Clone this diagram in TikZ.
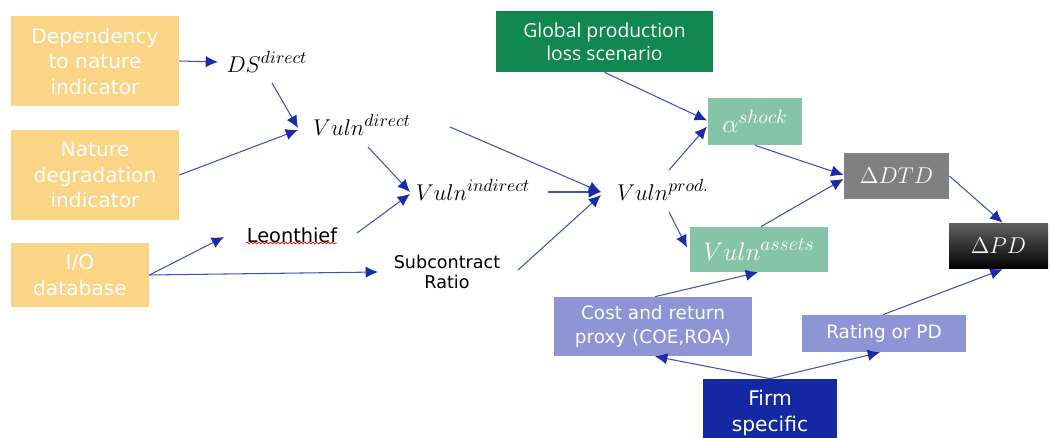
\RequirePackage{fix-cm}
\documentclass[tikz,border=0pt]{standalone}
\usepackage{fontspec}
\setmainfont{DejaVu Sans}
\newfontfamily\gpsfont{Open Sans}
\usetikzlibrary{arrows.meta,calc,decorations.pathmorphing}
\DeclareMathSizes{13}{13}{10}{8}
\DeclareMathSizes{14.5}{14.5}{11}{9}

\definecolor{natorange}{HTML}{FBD486}
\definecolor{scengreen}{HTML}{10884F}
\definecolor{paleteal}{HTML}{86C4A8}
\definecolor{dtdgray}{HTML}{808080}
\definecolor{firmlilac}{HTML}{8E95D6}
\definecolor{firmblue}{HTML}{1428A4}
\definecolor{arrowblue}{HTML}{4050C4}
\definecolor{tipblue}{HTML}{1A2AAA}

\begin{document}
\begin{tikzpicture}[x=0.02cm, y=-0.02cm,
    box/.style={rectangle, align=center, text=white, inner sep=0pt},
    link/.style={draw=arrowblue, line width=0.6pt, -{Latex[length=7pt,width=6.5pt,color=tipblue]}},
    mathlbl/.style={inner sep=0pt, font=\fontsize{13}{15}\selectfont}]
  \useasboundingbox (0,0) rectangle (1050,438);

  % input boxes
  \node[box, fill=natorange, minimum width=3.36cm, minimum height=1.8cm,
        font=\fontsize{11.5}{14.5}\selectfont] (dep) at (95,61)  {Dependency\\to nature\\indicator};
  \node[box, fill=natorange, minimum width=3.36cm, minimum height=1.8cm,
        font=\fontsize{11.5}{14.5}\selectfont] (deg) at (95,175) {Nature\\degradation\\indicator};
  \node[box, fill=natorange, minimum width=2.76cm, minimum height=1.28cm,
        font=\fontsize{11.5}{14.5}\selectfont] (io)  at (80,275) {I/O\\database};

  % vulnerability chain
  \node[mathlbl] (ds)  at (267,62)  {$DS^{direct}$};
  \node[mathlbl] (vd)  at (362,125) {$Vuln^{direct}$};
  \node[mathlbl] (vi)  at (473,190) {$Vuln^{indirect}$};
  \node[mathlbl] (vp)  at (663,190) {$Vuln^{prod.}$};
  \node[inner sep=0pt, font=\fontsize{11}{13}\selectfont] (leo) at (292,235) {Leonthief};
  \node[inner sep=0pt, align=center, font=\fontsize{10}{11.5}\selectfont] (sub) at (447,272) {Subcontract\\Ratio};
  \draw[red, line width=0.4pt, decorate, decoration={snake, amplitude=0.5pt, segment length=2.2pt}]
    ($(leo)+(-46,8)$) -- ($(leo)+(45,8)$);

  % scenario and financial side
  \node[box, fill=scengreen, minimum width=4.34cm, minimum height=1.22cm,
        font=\gpsfont\fontsize{11}{13}\selectfont] (gps) at (604.5,41.5) {Global production\\loss scenario};
  \node[box, fill=paleteal, minimum width=1.88cm, minimum height=0.94cm,
        font=\fontsize{14.5}{17}\selectfont] (alpha) at (755,121.5) {$\alpha^{shock}$};
  \node[box, fill=paleteal, minimum width=2.76cm, minimum height=0.9cm,
        font=\fontsize{14.5}{17}\selectfont] (va) at (759,249.5) {$Vuln^{assets}$};
  \node[box, fill=dtdgray, minimum width=2.1cm, minimum height=0.92cm,
        font=\fontsize{13}{15}\selectfont] (dtd) at (896.5,176) {$\Delta DTD$};
  \node[box, top color=black!62, middle color=black, bottom color=black,
        minimum width=1.98cm, minimum height=0.92cm,
        font=\fontsize{13}{15}\selectfont] (dpd) at (998.5,246) {$\Delta PD$};
  \node[box, fill=firmlilac, minimum width=3.96cm, minimum height=1.18cm,
        font=\fontsize{10.5}{14}\selectfont] (cost) at (653,326.5) {Cost and return\\proxy (COE,ROA)};
  \node[box, fill=firmlilac, minimum width=3.28cm, minimum height=0.74cm,
        font=\fontsize{10.5}{13}\selectfont] (rat) at (884,333.5) {Rating or PD};
  \node[box, fill=firmblue, minimum width=2.68cm, minimum height=1.36cm,
        font=\fontsize{11.5}{15}\selectfont] (firm) at (770,413) {Firm\\specific};

  % links
  \draw[link] (dep.east) -- ($(ds)+(-49,0)$);
  \draw[link] ($(ds)+(5,21)$) -- ($(vd)+(-64,3)$);
  \draw[link] (deg.east) -- ($(vd)+(-64,5)$);
  \draw[link] ($(vd)+(6,22)$) -- ($(vi)+(-63,2)$);
  \draw[link] ($(leo)+(65,-2)$) -- ($(vi)+(-63,4)$);
  \draw[link] (io.east) -- ($(leo)+(-68,2)$);
  \draw[link] (io.east) -- ($(sub)+(-69,0)$);
  \draw[link] ($(vd)+(88,2)$) -- ($(vp)+(-62,2)$);
  \draw[link] ($(vi)+(75,2)$) -- ($(vp)+(-62,2)$);
  \draw[link] ($(sub)+(71,-2)$) -- ($(vp)+(-62,5)$);
  \draw[link] (gps.south) -- ($(alpha)+(-48,-1)$);
  \draw[link] ($(vp)+(6,-20)$) -- ($(alpha)+(-48,5)$);
  \draw[link] ($(vp)+(6,22)$) -- ($(va)+(-72,-2)$);
  \draw[link] (alpha.south) -- ($(dtd)+(-53,-1)$);
  \draw[link] ($(va.north)+(2,0)$) -- ($(dtd)+(-53,3)$);
  \draw[link] (dtd.east) -- ($(dpd.north)+(4,0)$);
  \draw[link] ($(rat.north)+(-1,0)$) -- ($(dpd.south)+(4,0)$);
  \draw[link] ($(cost.north)+(2,0)$) -- ($(va.south)+(-1,0)$);
  \draw[link] (firm.north) -- ($(cost.south)+(2,0)$);
  \draw[link] (firm.north) -- ($(rat.south)+(-4,0)$);
\end{tikzpicture}
\end{document}
